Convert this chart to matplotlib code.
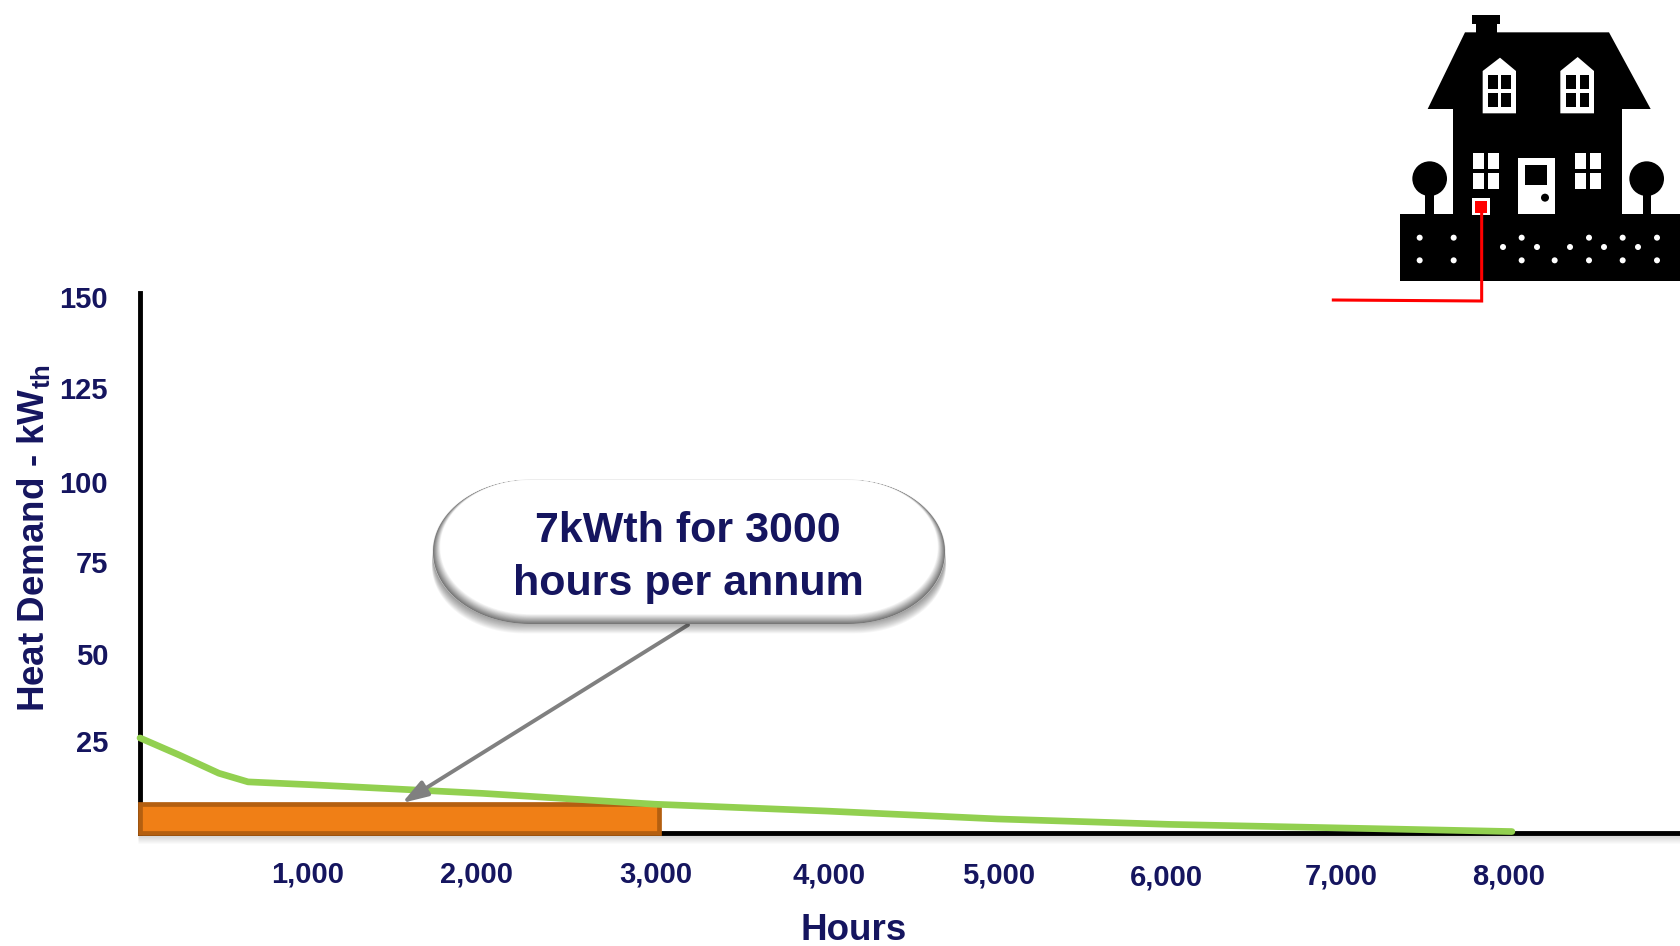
import matplotlib
matplotlib.use('Agg')
import matplotlib.pyplot as plt
import numpy as np
from matplotlib.patches import Polygon, Rectangle, Circle
from matplotlib.transforms import ScaledTranslation

plt.rcParams['font.family'] = ['Liberation Sans', 'DejaVu Sans']
plt.rcParams['font.weight'] = 'bold'
plt.rcParams['mathtext.fontset'] = 'custom'
plt.rcParams['mathtext.bf'] = 'Liberation Sans:bold'
plt.rcParams['mathtext.rm'] = 'Liberation Sans:bold'

NAVY = '#15155F'

# curve
hours = [0, 227, 460, 630, 1000, 2000, 3000, 4000, 5000, 6000, 7000, 8000]
demand = [26.4, 21.7, 16.6, 14.2, 13.4, 11.0, 8.0, 6.1, 3.9, 2.4, 1.4, 0.4]

bar_hours = 3025
bar_kw = 8

y_ticks = [25, 50, 75, 100, 125, 150]
x_ticks = [1000, 2000, 3000, 4000, 5000, 6000, 7000, 8000]
x_labels = ['1,000', '2,000', '3,000', '4,000', '5,000', '6,000', '7,000', '8,000']

W, H = 1680, 946
fig = plt.figure(figsize=(W / 100, H / 100), dpi=100)

# main chart, spine to spine in pixels: x 140-1680, y 293-833
ax = fig.add_axes([140 / W, 1 - 833 / H, 1540 / W, 540 / H], zorder=1)
ax.set_xlim(0, 8980)
ax.set_ylim(0, 150)
ax.patch.set_alpha(0)
for s in ['top', 'right']:
    ax.spines[s].set_visible(False)
for s in ['left', 'bottom']:
    ax.spines[s].set_linewidth(3.5)
    ax.spines[s].set_color('black')

ax.bar([0], [bar_kw], width=bar_hours, align='edge', color='#F07F16',
       edgecolor='#B45F10', linewidth=3.4, zorder=3, clip_on=False)
ax.plot(hours, demand, color='#92D050', lw=4.8, zorder=4, clip_on=False,
        solid_capstyle='round', solid_joinstyle='round')

ax.set_yticks(y_ticks)
ax.set_yticklabels([str(v) for v in y_ticks])
ax.set_xticks(x_ticks)
ax.set_xticklabels(x_labels)
ax.tick_params(axis='y', length=4, width=2.5, color='white', pad=19,
               labelsize=21, labelcolor=NAVY)
ax.tick_params(axis='x', length=0, pad=20, labelsize=21, labelcolor=NAVY)

# labels in the slide were placed by hand, so they sit a bit off the scale
y_nudge = [2, -1, 1, -9, -5, -4]
x_nudge = [(-4, 0), (-6, 0), (1, 0), (3, -1), (1, -1), (-3, -3), (1, -2), (-3, -2)]
for lab, dy in zip(ax.get_yticklabels(), y_nudge):
    lab.set_transform(lab.get_transform() + ScaledTranslation(0, dy / 100, fig.dpi_scale_trans))
for lab, (dx, dy) in zip(ax.get_xticklabels(), x_nudge):
    lab.set_transform(lab.get_transform() + ScaledTranslation(dx / 100, dy / 100, fig.dpi_scale_trans))

# overlay in pixels for the slide furniture
ov = fig.add_axes([0, 0, 1, 1], zorder=2)
ov.set_xlim(0, W)
ov.set_ylim(H, 0)
ov.axis('off')

fig.text(854 / W, 1 - 930 / H, 'Hours', fontsize=26.5, color=NAVY, ha='center', va='center')
fig.text(34 / W, 1 - 538 / H, r'Heat Demand - kW$_{\mathbf{th}}$', fontsize=26.5, color=NAVY,
         rotation=90, ha='center', va='center')

# soft shadow under the x axis
for i in range(1, 9):
    ov.plot([138, W], [835 + i, 835 + i], color='black', alpha=0.16 * (1 - i / 9), lw=0.8,
            solid_capstyle='butt', zorder=1)


def pill(x0, y0, x1, y1, color, alpha=1.0, z=5):
    # rounded ends slightly wider than tall, like the slide shape
    ry = (y1 - y0) / 2
    rx = ry * 1.35
    t = np.linspace(-np.pi / 2, np.pi / 2, 60)
    right = np.column_stack([x1 - rx + rx * np.cos(t), (y0 + y1) / 2 + ry * np.sin(t)])
    left = np.column_stack([x0 + rx - rx * np.cos(t), (y0 + y1) / 2 - ry * np.sin(t)])
    ov.add_patch(Polygon(np.vstack([right, left]), closed=True, fc=color, ec='none',
                         alpha=alpha, zorder=z))


# callout: drop shadow, then bevel from dark edge up to white
for i in range(12, 0, -1):
    pill(433 - i * 0.1, 487 + i * 0.9, 945 + i * 0.1, 622 + i * 0.95, 'black', alpha=0.035, z=5)
pill(432.5, 479.5, 945.5, 624, '#DDDDDD', z=6)
steps = 14
for i in range(steps):
    g = 0.42 + 0.58 * (i + 1) / steps
    pill(433 + i * 0.55, 480, 945 - i * 0.55, 624 - i * 0.75, (g, g, g), z=6 + i * 0.01)
ov.text(688, 531, '7kWth for 3000', fontsize=31, color=NAVY, ha='center', va='center', zorder=8)
ov.text(688, 584, 'hours per annum', fontsize=31, color=NAVY, ha='center', va='center', zorder=8)

ov.annotate('', xy=(402, 803), xytext=(688, 625), zorder=4,
            arrowprops=dict(arrowstyle='-|>,head_length=1.1,head_width=0.36', color='#808080',
                            lw=2.8, shrinkA=0, shrinkB=0, mutation_scale=14))

# house, drawn in its own pixel box (1 unit = 1/3 px)
hs = fig.add_axes([1300 / W, 1 - 320 / H, 380 / W, 320 / H], zorder=3)
hs.set_xlim(0, 1140)
hs.set_ylim(960, 0)
hs.axis('off')


def box(x0, x1, y0, y1, c):
    hs.add_patch(Rectangle((x0, y0), x1 - x0, y1 - y0, fc=c, ec='none'))


box(516, 600, 45, 72, 'black')
box(528, 590, 72, 100, 'black')
hs.add_patch(Polygon([(495, 97), (927, 97), (1052, 327), (383, 327)], fc='black', ec='none'))
box(458, 966, 327, 642, 'black')
box(300, 1140, 642, 843, 'black')

dormers = [[(548, 340), (548, 213), (600, 173), (648, 213), (648, 340)],
           [(781, 340), (781, 213), (833, 171), (882, 213), (882, 340)]]
dormer_panes = [[(564, 595), (603, 633)], [(798, 828), (840, 867)]]
for d, panes in zip(dormers, dormer_panes):
    hs.add_patch(Polygon(d, fc='white', ec='none'))
    for xa, xb in panes:
        for ya, yb in [(225, 267), (278, 321)]:
            box(xa, xb, ya, yb, 'black')

for xa, xb in [(519, 552), (564, 597), (825, 858), (870, 903)]:
    for ya, yb in [(459, 507), (519, 567)]:
        box(xa, xb, ya, yb, 'white')

box(654, 765, 474, 642, 'white')
box(675, 741, 495, 555, 'black')
hs.add_patch(Circle((735, 593), 12, fc='black', ec='none'))

for cx, xa, xb in [(389, 375, 401), (1040, 1028, 1053)]:
    hs.add_patch(Circle((cx, 536), 52, fc='black', ec='none'))
    box(xa, xb, 580, 642, 'black')

dot_rows = {713: [359, 461, 665, 867, 968, 1071],
            741: [609, 711, 810, 912, 1014],
            781: [359, 461, 665, 764, 867, 968, 1071]}
for yy, xs in dot_rows.items():
    for xx in xs:
        hs.add_patch(Circle((xx, yy), 9, fc='white', ec='none'))

box(517, 569, 594, 646, 'white')
box(525, 561, 602, 638, '#FF0000')
hs.plot([545, 545, 100], [638, 903, 900], color='#FF0000', lw=2.2, solid_joinstyle='miter')

fig.savefig('out.png', dpi=100)
